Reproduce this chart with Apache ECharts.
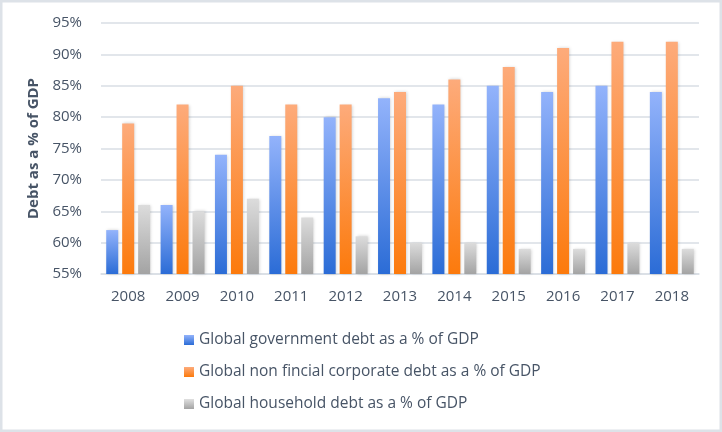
<!DOCTYPE html>
<html><head><meta charset="utf-8">
<script src="https://cdn.jsdelivr.net/npm/echarts@6/dist/echarts.min.js"></script>
<style>html,body{margin:0;padding:0;background:#fff}#c{width:722px;height:432px}</style>
</head><body><div id="c"></div>
<script>
const years = ['2008','2009','2010','2011','2012','2013','2014','2015','2016','2017','2018'];
const govDebt = [62, 66, 74, 77, 80, 83, 82, 85, 84, 85, 84];
const corpDebt = [79, 82, 85, 82, 82, 84, 86, 88, 91, 92, 92];
const householdDebt = [66, 65, 67, 64, 61, 60, 60, 59, 59, 60, 59];
const seriesNames = ['Global government debt as a % of GDP','Global non fincial corporate debt as a % of GDP','Global household debt as a % of GDP'];
const yTicks = {min:55, max:95, interval:5};

const txt = '#475466';
const font = '"Open Sans", sans-serif';
function grad(top, bottom){
  return new echarts.graphic.LinearGradient(0,0,0,1,[{offset:0,color:top},{offset:1,color:bottom}]);
}
const colors = [grad('#93b3fb','#2b6cd6'), grad('#fdab7b','#fc7a0c'), grad('#dcdcdc','#a3a3a3')];
const legendColors = [grad('#93b3fb','#2b6cd6'), grad('#fdab7b','#fc7a0c'), grad('#e0e0e0','#a3a3a3')];
const datas = [govDebt, corpDebt, householdDebt];

const chart = echarts.init(document.getElementById('c'), null, {renderer:'canvas'});
chart.setOption({
  animation:false,
  backgroundColor:'#fff',
  graphic:[{type:'rect', shape:{x:1,y:1,width:720,height:430}, style:{fill:'none', stroke:'#dde2e8', lineWidth:3}, silent:true}],
  grid:{left:101, right:23, top:23, bottom:158},
  xAxis:{type:'category', data:years,
    axisLine:{show:true, lineStyle:{color:'#d9dee5', width:1.5}},
    axisTick:{show:false},
    axisLabel:{color:txt, fontFamily:font, fontSize:15, margin:15}},
  yAxis:{type:'value', min:yTicks.min, max:yTicks.max, interval:yTicks.interval,
    name:'Debt as a % of GDP', nameLocation:'middle', nameGap:57, nameRotate:90,
    nameTextStyle:{color:txt, fontFamily:font, fontSize:15, fontWeight:'bold'},
    axisLine:{show:false}, axisTick:{show:false},
    splitLine:{lineStyle:{color:'#d9dee5', width:1.5}},
    axisLabel:{color:txt, fontFamily:font, fontSize:15, margin:19, formatter:'{value}%'}},
  legend:{orient:'vertical', left:184, top:332, padding:0, itemGap:16, itemWidth:10, itemHeight:10,
    icon:'rect',
    textStyle:{color:txt, fontFamily:font, fontSize:15.5},
    data:seriesNames.map((n,i)=>({name:n, itemStyle:{color:legendColors[i]}}))},
  series: datas.map((d,i)=>({
    name:seriesNames[i], type:'bar', data:d, barWidth:12, barGap:'33%',
    itemStyle:{color:colors[i], shadowColor:'rgba(0,0,0,0.18)', shadowBlur:3, shadowOffsetX:1}
  }))
});
</script></body></html>
